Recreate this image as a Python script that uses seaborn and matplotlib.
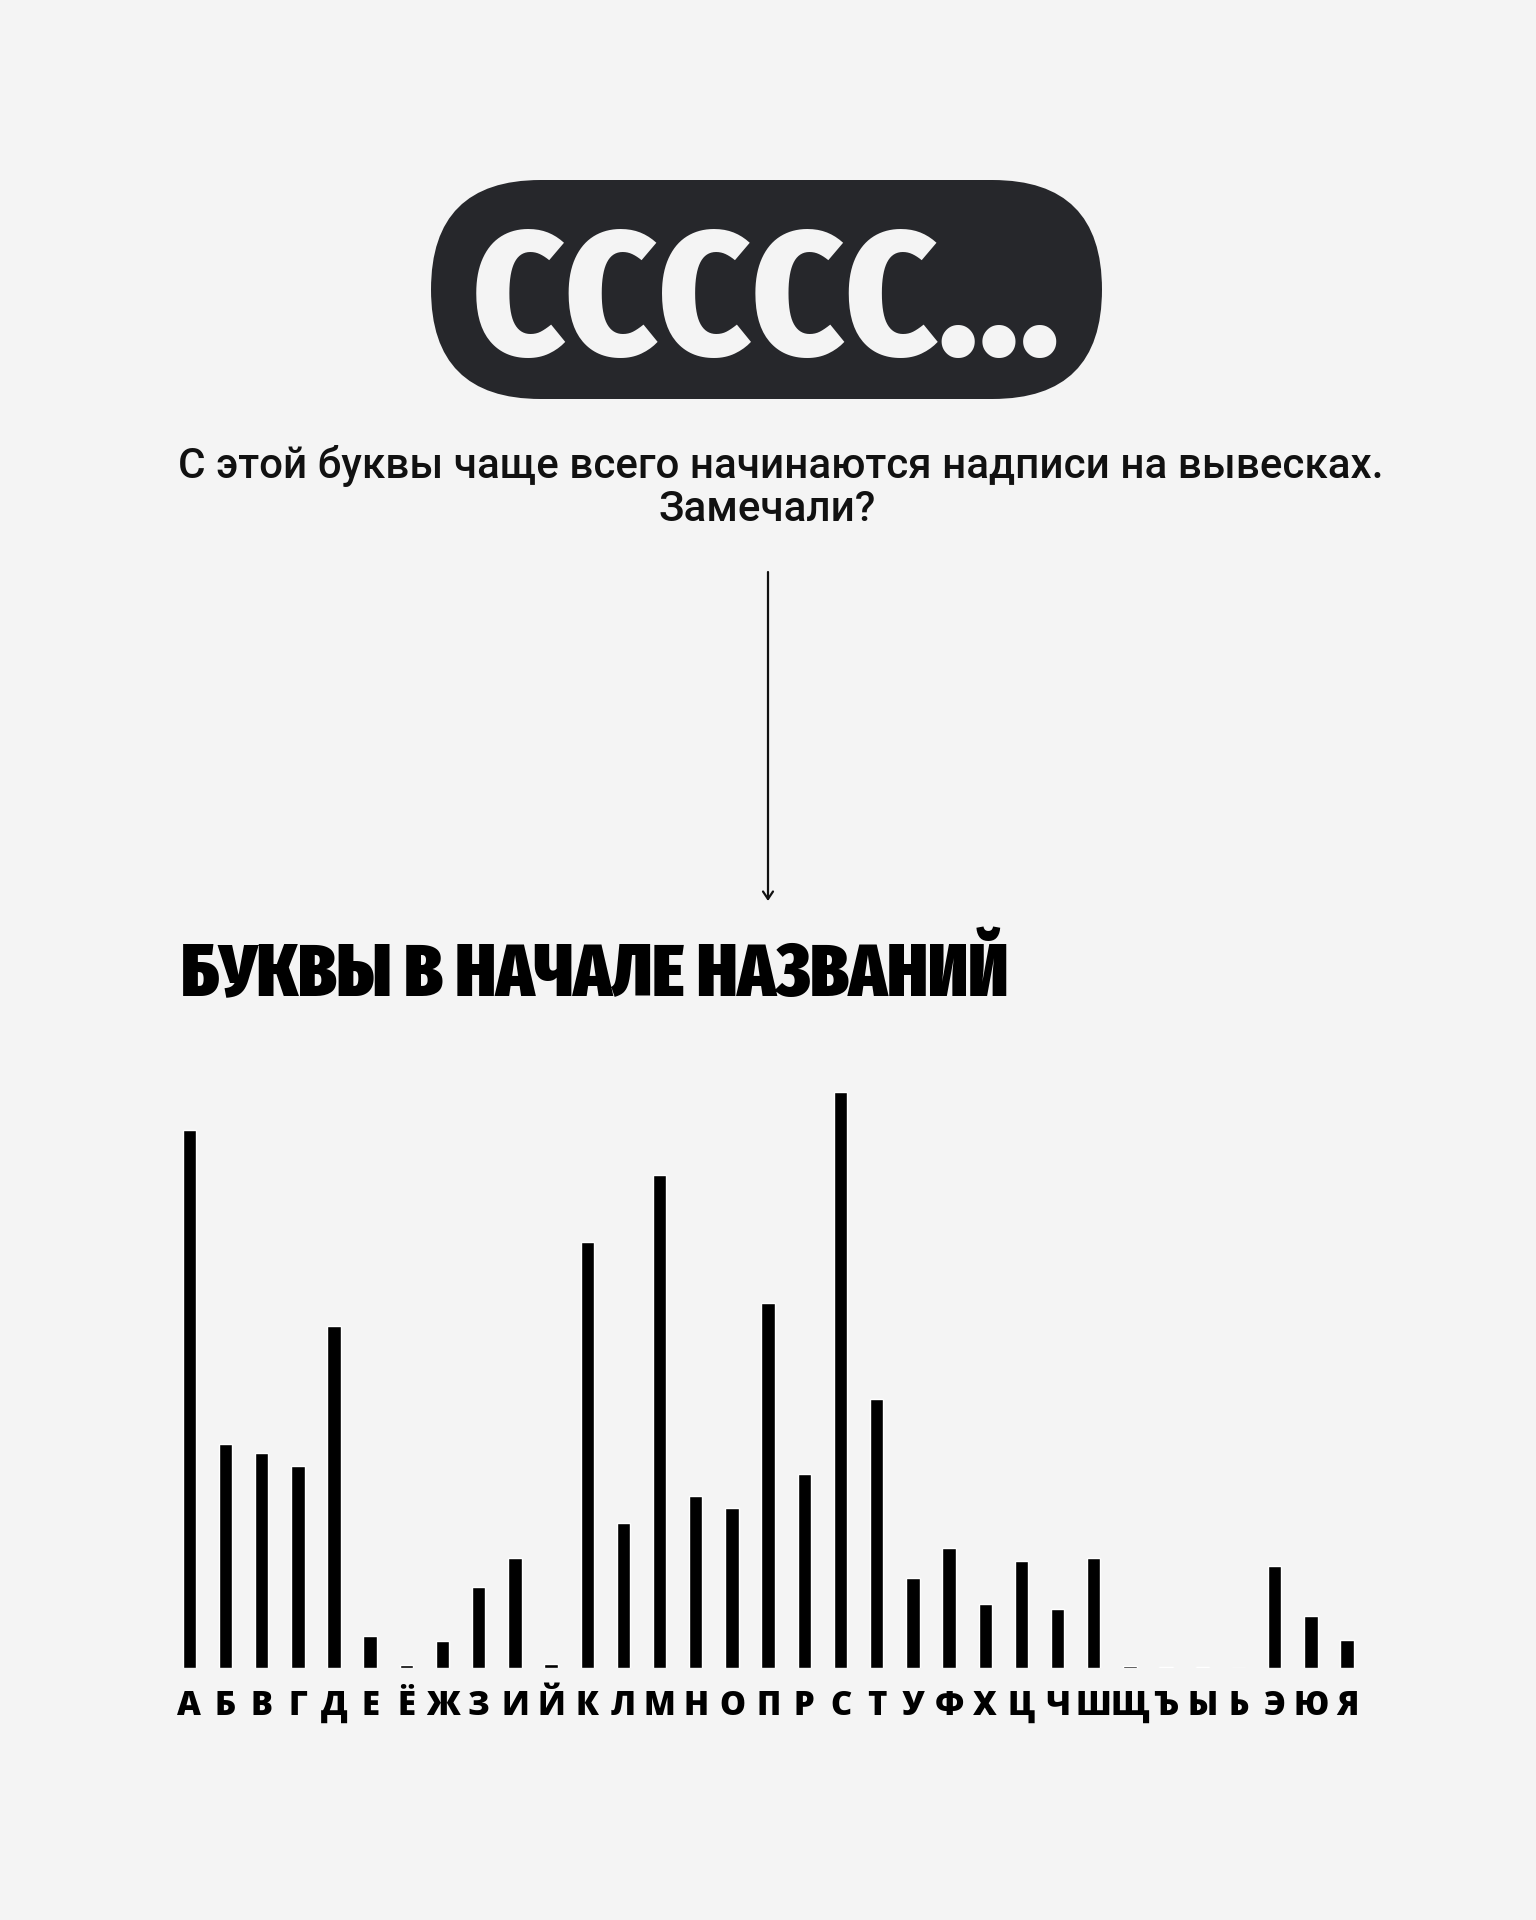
import math
import matplotlib
matplotlib.use("Agg")
import matplotlib.pyplot as plt
import seaborn as sns
import pandas as pd
from matplotlib.patches import FancyBboxPatch
from matplotlib import font_manager as fm
from matplotlib.font_manager import FontProperties
from matplotlib.textpath import TextPath
from matplotlib.ft2font import FT2Font

# ---- data ----
letters = list("АБВГДЕЁЖЗИЙКЛМНОПРСТУФХЦЧШЩЪЫЬЭЮЯ")
counts = [538, 224, 215, 202, 342, 32, 3, 27, 81, 110, 4, 426, 145, 493,
          172, 160, 365, 194, 576, 269, 90, 120, 64, 107, 59, 110, 2.5, 1,
          1, 0, 102, 52, 28]
headline = "ССССС..."
subtitle_1 = "С этой буквы чаще всего начинаются надписи на вывесках."
subtitle_2 = "Замечали?"
chart_title = "БУКВЫ В НАЧАЛЕ НАЗВАНИЙ"

df = pd.DataFrame({"letter": letters, "count": counts})

# ---- font helpers ----
NAMES = {f.name for f in fm.fontManager.ttflist}


def _w(v):
    if isinstance(v, str):
        return fm.weight_dict.get(v, 400)
    return int(v)


def usable(name, weight, min_w):
    ents = [f for f in fm.fontManager.ttflist if f.name == name and f.style == "normal"]
    if not ents or max(_w(f.weight) for f in ents) < min_w:
        return False
    try:
        path = fm.findfont(FontProperties(family=name, weight=weight),
                           fallback_to_default=False)
        ft = FT2Font(path)
        return all(ft.get_char_index(ord(c)) for c in "БЖЩЯЁЙСЭЮ")
    except Exception:
        return False


def ink(name, weight, s):
    ext = TextPath((0, 0), s, size=100,
                   prop=FontProperties(family=name, weight=weight)).get_extents()
    return ext.width, ext.height


def best_font(cands, weight, s, hchar, target_ratio, min_w):
    best, bd = None, 1e9
    for c in cands:
        if c not in NAMES or not usable(c, weight, min_w):
            continue
        w, _ = ink(c, weight, s)
        _, h = ink(c, weight, hchar)
        d = abs(math.log((h / w) / target_ratio))
        if d < bd:
            best, bd = c, d
    return best or "DejaVu Sans"


def first_font(cands, weight, min_w):
    for c in cands:
        if c in NAMES and usable(c, weight, min_w):
            return c
    return "DejaVu Sans"


CONDENSED = ["Open Sans Condensed", "Fira Sans Extra Condensed",
             "Fira Sans Condensed", "Roboto Condensed", "PT Sans Narrow",
             "Oswald", "IBM Plex Sans Condensed", "Ubuntu Condensed",
             "Archivo Narrow", "Encode Sans Condensed",
             "Encode Sans Semi Condensed", "Sofia Sans Condensed",
             "Sofia Sans Semi Condensed", "Sofia Sans Extra Condensed",
             "Liberation Sans Narrow", "Noto Sans Display", "Roboto",
             "Open Sans", "DejaVu Sans"]

PX_PER_PT = 100 / 72.0

W, H = 1536, 1920

head_font = best_font(CONDENSED, 800, headline, "С", 131 / 581, 700)
title_font = best_font(CONDENSED, 900, chart_title, "Н", 50 / 823, 800)
sub_font = "Roboto" if "Roboto" in NAMES else "DejaVu Sans"
tick_font = first_font(["Open Sans", "Roboto", "Noto Sans", "DejaVu Sans"], 800, 700)

sns.set_theme(style="white")
BG = "#f4f4f4"
plt.rcParams["font.family"] = [sub_font, "DejaVu Sans"]

fig = plt.figure(figsize=(W / 100, H / 100), dpi=100, facecolor=BG)

# overlay axes in pixel coordinates
ov = fig.add_axes([0, 0, 1, 1])
ov.set_xlim(0, W)
ov.set_ylim(H, 0)
ov.axis("off")
ov.patch.set_alpha(0)


def size_for_width(name, weight, s, target_px):
    w, _ = ink(name, weight, s)
    return target_px / (w / 100 * PX_PER_PT)


def size_for_cap(name, weight, ch, target_px):
    _, h = ink(name, weight, ch)
    return target_px / (h / 100 * PX_PER_PT)


# pill
pill = FancyBboxPatch((431, 180), 671, 219,
                      boxstyle="round,pad=0,rounding_size=109.5",
                      facecolor="#26272b", edgecolor="none")
ov.add_patch(pill)
fs_head = size_for_width(head_font, 800, headline, 581)
ov.text(766, 355, headline, color=BG, ha="center", va="baseline",
        fontweight=800, fontsize=fs_head, family=[head_font, "DejaVu Sans"])

# subtitle
fs_sub = size_for_width(sub_font, 500, subtitle_1, 1201)
ov.text(781, 478, subtitle_1, color="#111111", ha="center", va="baseline",
        fontweight=500, fontsize=fs_sub, family=[sub_font, "DejaVu Sans"])
ov.text(767, 521, subtitle_2, color="#111111", ha="center", va="baseline",
        fontweight=500, fontsize=fs_sub, family=[sub_font, "DejaVu Sans"])

# arrow
ov.annotate("", xy=(768, 901), xytext=(768, 572),
            arrowprops=dict(arrowstyle="->,head_length=0.45,head_width=0.3",
                            color="#111111", lw=1.6, shrinkA=0, shrinkB=0))

# chart title
fs_title = size_for_width(title_font, 900, chart_title, 823)
ov.text(181, 996, chart_title, color="black", ha="left", va="baseline",
        fontweight=900, fontsize=fs_title, family=[title_font, "DejaVu Sans"])

# bars
left, right = 171.2, 1365.1
base, top = 1668, 1068
ax = fig.add_axes([left / W, (H - base) / H, (right - left) / W, (base - top) / H])
ax.patch.set_alpha(0)
sns.barplot(data=df, x="letter", y="count", color="black", saturation=1,
            width=0.37, ax=ax, order=letters)
ax.set_xlim(-0.5, len(letters) - 0.5)
ax.set_ylim(0, 600)
ax.set_xlabel("")
ax.set_ylabel("")
ax.set_yticks([])
for sp in ax.spines.values():
    sp.set_visible(False)
ax.tick_params(axis="x", length=0, pad=15)
fs_tick = size_for_cap(tick_font, 800, "Н", 23.5)
for lab in ax.get_xticklabels():
    lab.set_fontweight(800)
    lab.set_fontsize(fs_tick)
    lab.set_family([tick_font, "DejaVu Sans"])
    lab.set_color("black")

fig.savefig("out.png", dpi=100, facecolor=BG)
